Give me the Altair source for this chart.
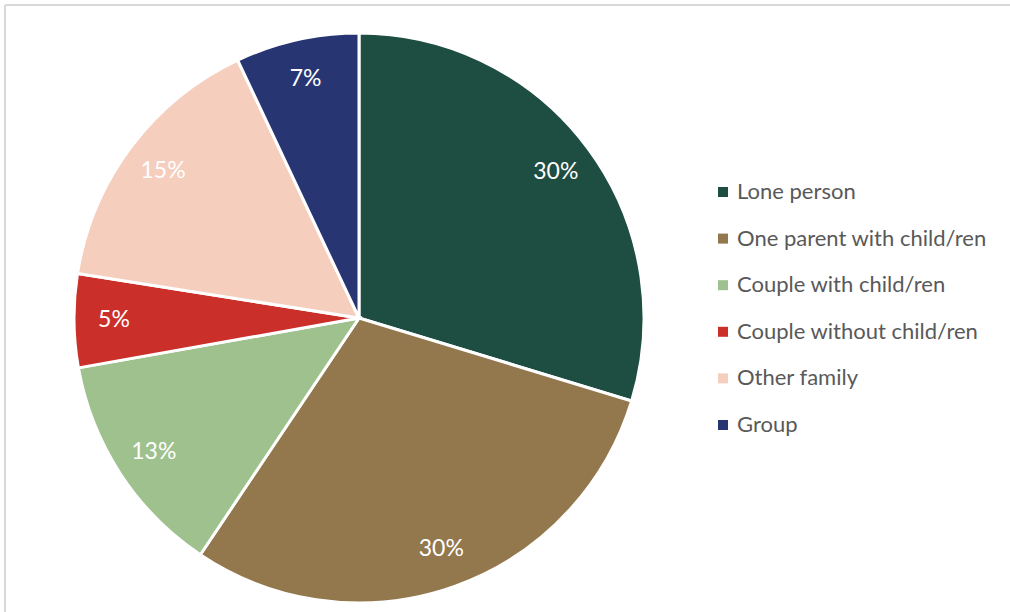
import altair as alt
import pandas as pd

categories = ["Lone person", "One parent with child/ren", "Couple with child/ren",
              "Couple without child/ren", "Other family", "Group"]
values = [29.7, 29.7, 12.8, 5.3, 15.5, 7.0]
labels = ["30%", "30%", "13%", "5%", "15%", "7%"]
colors = ["#1e4d42", "#93774d", "#9ec18e", "#cb2f2a", "#f6cebe", "#273573"]

df = pd.DataFrame({"category": categories, "value": values, "label": labels,
                   "order": list(range(len(categories)))})

FONT = "Lato"
CX, CY, R = 359, 318, 285

base = alt.Chart(df).encode(
    theta=alt.Theta("value:Q", stack=True),
    order=alt.Order("order:Q"),
    x=alt.value(CX),
    y=alt.value(CY),
)

pie = base.mark_arc(outerRadius=R, stroke="white", strokeWidth=3).encode(
    color=alt.Color(
        "category:N",
        scale=alt.Scale(domain=categories, range=colors),
        sort=categories,
        legend=alt.Legend(
            title=None, orient="none", legendX=712, legendY=181,
            symbolType="square", symbolSize=100, symbolStrokeWidth=0,
            labelFont=FONT, labelFontSize=22, labelColor="#595959",
            labelOffset=3, rowPadding=24.6, padding=0, labelLimit=400,
        ),
    )
)

text = base.mark_text(radius=245, font=FONT, fontSize=23, color="white").encode(
    text="label:N"
)

frame_top = alt.Chart(alt.Data(values=[{}])).mark_rule(color="#d9d9d9", strokeWidth=2).encode(
    x=alt.value(5), x2=alt.value(1010), y=alt.value(5)
)
frame_left = alt.Chart(alt.Data(values=[{}])).mark_rule(color="#d9d9d9", strokeWidth=2).encode(
    x=alt.value(5), y=alt.value(5), y2=alt.value(612)
)

chart = alt.layer(pie, text, frame_top, frame_left).properties(
    width=1010, height=612, padding=0, autosize=alt.AutoSizeParams(type="none"),
    background="white",
).configure_view(stroke=None)

chart.save("out.html", embed_options={"renderer": "svg", "actions": False})
